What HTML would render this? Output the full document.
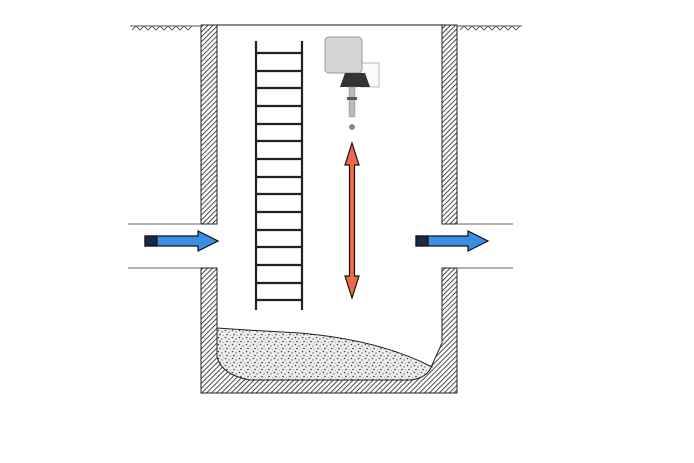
<!DOCTYPE html>
<html><head><style>html,body{margin:0;padding:0;background:#fff;}svg{display:block}</style></head>
<body>
<svg width="694" height="463" viewBox="0 0 694 463" xmlns="http://www.w3.org/2000/svg">
<defs>
<pattern id="h" width="3.5" height="3.5" patternUnits="userSpaceOnUse" patternTransform="rotate(45)">
<rect width="3.5" height="3.5" fill="#fff"/><line x1="0" y1="0" x2="0" y2="3.5" stroke="#222" stroke-width="1.6"/>
</pattern>
<pattern id="d" width="7" height="7" patternUnits="userSpaceOnUse">
<rect width="7" height="7" fill="#eee"/>
<circle cx="1.5" cy="1.5" r="0.8" fill="#444"/><circle cx="5" cy="3" r="0.7" fill="#666"/><circle cx="3" cy="5.5" r="0.8" fill="#333"/><circle cx="6.3" cy="6.3" r="0.5" fill="#777"/>
</pattern>
</defs>
<line x1="130" y1="26" x2="200" y2="26" stroke="#555" stroke-width="1"/>
<line x1="457" y1="26" x2="522" y2="26" stroke="#555" stroke-width="1"/>
<path d="M132 30l4-4l4 4l4-4l4 4l4-4l4 4l4-4l4 4l4-4l4 4l4-4l4 4l4-4l4 4l4-4" stroke="#666" fill="none" stroke-width="1"/>
<path d="M460 30l4-4l4 4l4-4l4 4l4-4l4 4l4-4l4 4l4-4l4 4l4-4l4 4l4-4l4 4l4-4" stroke="#666" fill="none" stroke-width="1"/>
<line x1="217" y1="25" x2="442" y2="25" stroke="#888" stroke-width="2"/>
<rect x="201" y="25" width="16" height="199" fill="url(#h)" stroke="#222" stroke-width="1"/>
<rect x="442" y="25" width="15" height="199" fill="url(#h)" stroke="#222" stroke-width="1"/>
<path d="M201 268 H217 V357 Q222 375 250 380 H410 Q428 378 432 365 L442 343 V268 H457 V393 H201 Z" fill="url(#h)" stroke="#222" stroke-width="1"/>
<line x1="128" y1="224" x2="201" y2="224" stroke="#666"/>
<line x1="128" y1="268" x2="201" y2="268" stroke="#666"/>
<line x1="457" y1="224" x2="513" y2="224" stroke="#666"/>
<line x1="457" y1="268" x2="513" y2="268" stroke="#666"/>
<path d="M217 328 Q260 331 300 333 Q380 340 432 367 L432 365 Q428 378 410 380 H250 Q222 375 217 357 Z" fill="url(#d)" stroke="#222" stroke-width="1"/>
<g stroke="#222" stroke-width="2.2">
<line x1="256" y1="41" x2="256" y2="310"/><line x1="302" y1="41" x2="302" y2="310"/>
<line x1="256" y1="53" x2="302" y2="53"/><line x1="256" y1="71" x2="302" y2="71"/><line x1="256" y1="88" x2="302" y2="88"/><line x1="256" y1="106" x2="302" y2="106"/><line x1="256" y1="124" x2="302" y2="124"/><line x1="256" y1="141" x2="302" y2="141"/><line x1="256" y1="159" x2="302" y2="159"/><line x1="256" y1="177" x2="302" y2="177"/><line x1="256" y1="194" x2="302" y2="194"/><line x1="256" y1="212" x2="302" y2="212"/><line x1="256" y1="230" x2="302" y2="230"/><line x1="256" y1="247" x2="302" y2="247"/><line x1="256" y1="265" x2="302" y2="265"/><line x1="256" y1="283" x2="302" y2="283"/><line x1="256" y1="300" x2="302" y2="300"/>
</g>
<rect x="361" y="63" width="18" height="24" fill="#fafafa" stroke="#bbb"/>
<rect x="325" y="37" width="37" height="36" rx="4" fill="#d8d6d4" stroke="#999"/>
<path d="M345 73 H365 L370 87 H340 Z" fill="#333"/>
<rect x="349" y="87" width="6" height="30" fill="#bbb" stroke="#888" stroke-width="0.5"/>
<rect x="347" y="97" width="10" height="3" fill="#555"/>
<circle cx="352" cy="127" r="3" fill="#888"/>
<path d="M352 143 L359 165 H354.5 V276 H359 L352 298 L345 276 H349.5 V165 H345 Z" fill="#f06a4a" stroke="#111" stroke-width="1.2"/>
<g stroke="#111" stroke-width="1.2">
<path d="M145 236 H198 V231 L218 241 L198 251 V246 H145 Z" fill="#3a8ee6"/>
<rect x="145" y="236" width="12" height="10" fill="#1b2a44"/>
<path d="M416 236 H468 V231 L488 241 L468 251 V246 H416 Z" fill="#3a8ee6"/>
<rect x="416" y="236" width="12" height="10" fill="#1b2a44"/>
</g>
</svg>
</body></html>
